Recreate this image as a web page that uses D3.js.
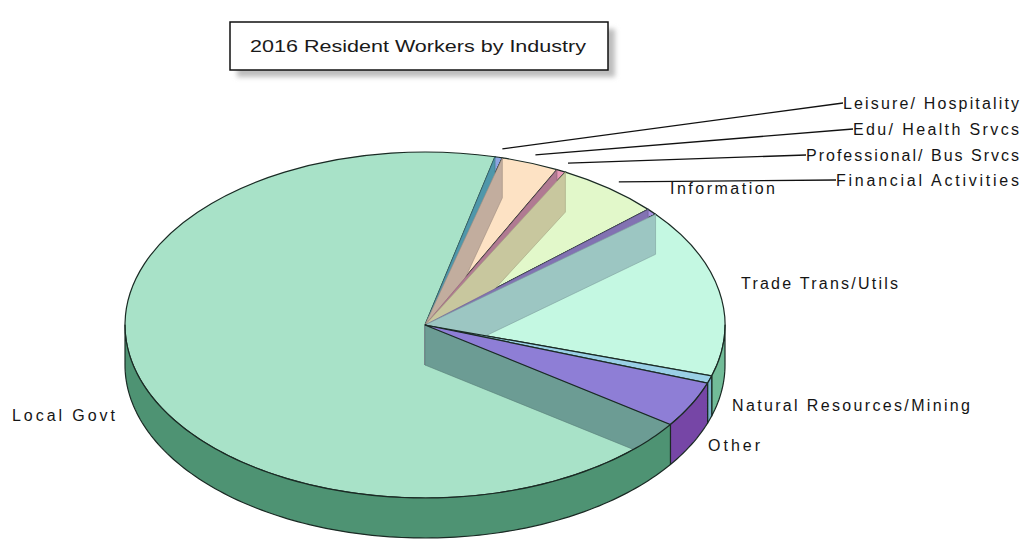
<!DOCTYPE html>
<html>
<head>
<meta charset="utf-8">
<script src="https://cdn.jsdelivr.net/npm/d3@7"></script>
<style>
  body { margin: 0; background: #fff; }
  svg { display: block; font-family: Arial, "Liberation Sans", sans-serif; }
</style>
</head>
<body>
<script>
/**
 * DATA
 */
const title = "2016 Resident Workers by Industry";
const categories = [
  "Leisure/ Hospitality",
  "Edu/ Health Srvcs",
  "Professional/ Bus Srvcs",
  "Financial Activities",
  "Information",
  "Trade Trans/Utils",
  "Natural Resources/Mining",
  "Other",
  "Local Govt",
];
// share of resident workers in %
const shares = [0.4, 3.1, 0.5, 5.6, 0.6, 15.8, 0.7, 4.3, 69.0];

/**
 * STYLE
 */
const topColors = ["#8ea4e2", "#fde2c4", "#e89ab8", "#e2f8ca", "#a892e0", "#c4f8e2", "#9ad0e6", "#8e7ed6", "#a8e2c8"];
const cutColors = ["#4f97aa", "#c2ad9e", "#b07a92", "#c8c79e", "#8272b2", "#9cc6c2", "#74a8bc", "#6c58b0", "#6c9c94"];
const sideColors = ["#5c70b0", "#c8a888", "#b06888", "#a8c090", "#7058b0", "#72bc98", "#7ab6cc", "#7646a6", "#4e9373"];
// the old renderer paints the cut face of these slices on top of the pie;
// the others keep their top face above every cut
const showCut = [true, true, true, true, true, true, false, false, true];

// where each label sits (x is its anchor, y its middle) and how wide the text runs
const labelBoxes = [
  { x: 1019, y: 103, anchor: "end", w: 176, leader: true },
  { x: 1019, y: 129, anchor: "end", w: 166, leader: true },
  { x: 1019, y: 155, anchor: "end", w: 213, leader: true },
  { x: 1019, y: 180, anchor: "end", w: 183, leader: true },
  { x: 670, y: 188, anchor: "start", w: 105, leader: false },
  { x: 741, y: 283, anchor: "start", w: 157, leader: false },
  { x: 732, y: 405, anchor: "start", w: 238, leader: false },
  { x: 708, y: 445, anchor: "start", w: 52, leader: false },
  { x: 12, y: 415, anchor: "start", w: 103, leader: false },
];

/**
 * CONSTANTS
 */
const WIDTH = 1030;
const HEIGHT = 539;
const CX = 425;
const CY = 325;
const RX = 300;
const RY = 173;
const DEPTH = 40;
const START = (13.5 * Math.PI) / 180; // first slice starts just right of 12 o'clock
const LEADER_OUT = 1.05;
const EDGE = "#1a2a24";

/**
 * UTILITIES
 */
const px = (a, k = 1) => CX + k * RX * Math.sin(a);
const py = (a, k = 1) => CY - k * RY * Math.cos(a);
const closed = (pts) => d3.line()(pts) + "Z";

// outer rim of a slice, only the part that faces the viewer
const sidePath = (a0, a1) => {
  const lo = Math.max(a0, Math.PI / 2);
  const hi = Math.min(a1, (3 * Math.PI) / 2);
  if (hi <= lo) return null;
  const n = Math.max(2, Math.ceil((hi - lo) / 0.02));
  const angles = d3.range(n + 1).map((i) => lo + ((hi - lo) * i) / n);
  const upper = angles.map((a) => [px(a), py(a)]);
  const lower = angles.slice().reverse().map((a) => [px(a), py(a) + DEPTH]);
  return closed(upper.concat(lower));
};

// radial face at the start edge of a slice
const cutPath = (a) =>
  closed([
    [CX, CY],
    [px(a), py(a)],
    [px(a), py(a) + DEPTH],
    [CX, CY + DEPTH],
  ]);

/**
 * SETUP
 */
const rows = categories.map((name, i) => ({
  name,
  value: shares[i],
  top: topColors[i],
  cut: cutColors[i],
  side: sideColors[i],
  showCut: showCut[i],
  label: labelBoxes[i],
}));

const slices = d3
  .pie()
  .sort(null)
  .value((d) => d.value)
  .startAngle(START)
  .endAngle(START + 2 * Math.PI)(rows);

const svg = d3
  .select("body")
  .append("svg")
  .attr("width", WIDTH)
  .attr("height", HEIGHT);

const defs = svg.append("defs");
defs
  .append("filter")
  .attr("id", "soft")
  .attr("x", "-10%")
  .attr("y", "-30%")
  .attr("width", "120%")
  .attr("height", "160%")
  .append("feGaussianBlur")
  .attr("stdDeviation", 2.5);

// Title box with its drop shadow
const titleBox = { x: 230, y: 22, w: 378, h: 48 };
svg
  .append("rect")
  .attr("x", titleBox.x + 7)
  .attr("y", titleBox.y + 7)
  .attr("width", titleBox.w)
  .attr("height", titleBox.h)
  .attr("fill", "#bdbdbd")
  .attr("filter", "url(#soft)");
svg
  .append("rect")
  .attr("x", titleBox.x)
  .attr("y", titleBox.y)
  .attr("width", titleBox.w)
  .attr("height", titleBox.h)
  .attr("fill", "#fff")
  .attr("stroke", "#111")
  .attr("stroke-width", 1.5);
svg
  .append("text")
  .attr("x", titleBox.x + titleBox.w / 2 - 1)
  .attr("y", titleBox.y + titleBox.h / 2)
  .attr("dy", "0.36em")
  .attr("text-anchor", "middle")
  .attr("font-size", "17px")
  .attr("fill", "#1a1a1a")
  .attr("textLength", 336)
  .attr("lengthAdjust", "spacingAndGlyphs")
  .text(title);

// top faces, drawn as a circle squashed into an ellipse
const arc = d3.arc().innerRadius(0).outerRadius(RX);
const drawTops = (data, cls) =>
  svg
    .append("g")
    .attr("class", cls)
    .attr("transform", `translate(${CX},${CY}) scale(1,${RY / RX})`)
    .selectAll("path")
    .data(data)
    .join("path")
    .attr("d", arc)
    .attr("fill", (d) => d.data.top)
    .attr("stroke", EDGE)
    .attr("stroke-width", 1.2)
    .attr("vector-effect", "non-scaling-stroke");

// STEP 1: tops of the slices whose cut shows through
drawTops(slices.filter((d) => d.data.showCut), "tops");

// STEP 2: the cut faces
svg
  .append("g")
  .attr("class", "cuts")
  .selectAll("path")
  .data(slices.filter((d) => d.data.showCut))
  .join("path")
  .attr("d", (d) => cutPath(d.startAngle))
  .attr("fill", (d) => d.data.cut)
  .attr("stroke", (d) => d3.color(d.data.cut).darker(0.6))
  .attr("stroke-width", 0.6);

// STEP 3: remaining tops lie over the cuts
drawTops(slices.filter((d) => !d.data.showCut), "tops-front");

// STEP 4: outer rim
svg
  .append("g")
  .attr("class", "sides")
  .selectAll("path")
  .data(slices.filter((d) => sidePath(d.startAngle, d.endAngle)))
  .join("path")
  .attr("d", (d) => sidePath(d.startAngle, d.endAngle))
  .attr("fill", (d) => d.data.side)
  .attr("stroke", EDGE)
  .attr("stroke-width", 1.2)
  .attr("stroke-linejoin", "round");

// STEP 5: labels and leader lines
const labels = svg.append("g").attr("class", "labels");

labels
  .selectAll("line")
  .data(slices.filter((d) => d.data.label.leader))
  .join("line")
  .attr("x1", (d) => px((d.startAngle + d.endAngle) / 2, LEADER_OUT))
  .attr("y1", (d) => py((d.startAngle + d.endAngle) / 2, LEADER_OUT))
  .attr("x2", (d) => d.data.label.x - d.data.label.w)
  .attr("y2", (d) => d.data.label.y)
  .attr("stroke", "#111")
  .attr("stroke-width", 1.3);

labels
  .selectAll("text")
  .data(slices)
  .join("text")
  .attr("x", (d) => d.data.label.x)
  .attr("y", (d) => d.data.label.y)
  .attr("dy", "0.36em")
  .attr("text-anchor", (d) => d.data.label.anchor)
  .attr("font-size", "16px")
  .attr("fill", "#151515")
  .attr("textLength", (d) => d.data.label.w)
  .attr("lengthAdjust", "spacing")
  .text((d) => d.data.name);
</script>
</body>
</html>
